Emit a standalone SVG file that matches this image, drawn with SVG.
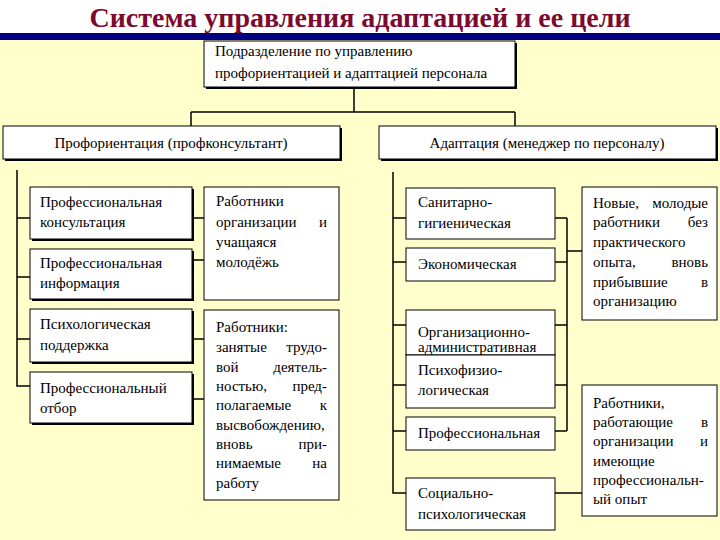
<svg xmlns="http://www.w3.org/2000/svg" width="720" height="540" viewBox="0 0 720 540">
<style>
.t{font-size:15px;fill:#000}
.e{text-anchor:end}
.box{fill:#fff;stroke:#000;stroke-width:1}
.sh{fill:#000}
.c{stroke:#000;stroke-width:1.5;fill:none}
</style>
<rect x="0" y="0" width="720" height="540" fill="#FFFFCC"/>
<rect x="0" y="0" width="720" height="33" fill="#fff"/>
<rect x="0" y="33" width="720" height="7" fill="#000080"/>
<text x="360" y="27" text-anchor="middle" font-family="Liberation Serif,'Times New Roman',serif" font-size="28" font-weight="bold" fill="#7B0A2E">Система управления адаптацией и ее цели</text>

<g id="connectors">
<path class="c" d="M354 87V112M191 112H515M191 112V126M515 112V126"/>
<path class="c" d="M17 170V386H30M17 218H30M17 277H30M17 339H30"/>
<path class="c" d="M192 218H204M192 260H204M192 339H204M192 399H204"/>
<path class="c" d="M393 172V493H406M393 218H406M393 262H406M393 325H406M393 385H406M393 431H406"/>
<path class="c" d="M555 218H567M555 262H567M555 325H567M555 385H567M555 431H567M567 218V431M567 251H582M555 493H582"/>
</g>

<g font-family="Liberation Serif,'Times New Roman',serif">
<g id="n-top">
<rect class="sh" x="206" y="43" width="311" height="46"/>
<rect class="box" x="204" y="41" width="311" height="46"/>
<text class="t" x="215" y="56">Подразделение по управлению</text>
<text class="t" x="215" y="78">профориентацией и адаптацией персонала</text>
</g>

<g id="n-prof">
<rect class="sh" x="5" y="128" width="337" height="33"/>
<rect class="box" x="3" y="126" width="337" height="33"/>
<text class="t" x="171" y="148" text-anchor="middle">Профориентация (профконсультант)</text>
</g>

<g id="n-adapt">
<rect class="sh" x="381" y="128" width="337" height="33"/>
<rect class="box" x="379" y="126" width="337" height="33"/>
<text class="t" x="547" y="148" text-anchor="middle">Адаптация (менеджер по персоналу)</text>
</g>

<g id="n-l1">
<rect class="sh" x="32" y="189" width="162" height="52"/>
<rect class="box" x="30" y="187" width="162" height="52"/>
<text class="t" x="40" y="207">Профессиональная</text>
<text class="t" x="40" y="227">консультация</text>
</g>
<g id="n-l2">
<rect class="sh" x="32" y="251" width="162" height="50"/>
<rect class="box" x="30" y="249" width="162" height="50"/>
<text class="t" x="40" y="268">Профессиональная</text>
<text class="t" x="40" y="288">информация</text>
</g>
<g id="n-l3">
<rect class="sh" x="32" y="311" width="162" height="53"/>
<rect class="box" x="30" y="309" width="162" height="53"/>
<text class="t" x="40" y="329">Психологическая</text>
<text class="t" x="40" y="350">поддержка</text>
</g>
<g id="n-l4">
<rect class="sh" x="32" y="374" width="162" height="51"/>
<rect class="box" x="30" y="372" width="162" height="51"/>
<text class="t" x="40" y="393">Профессиональный</text>
<text class="t" x="40" y="413">отбор</text>
</g>

<g id="n-m1">
<rect class="box" x="204" y="187" width="135" height="113"/>
<text class="t" x="216" y="206">Работники</text>
<text class="t" x="216" y="227">организации</text><text class="t e" x="327" y="227">и</text>
<text class="t" x="216" y="247">учащаяся</text>
<text class="t" x="216" y="267">молодёжь</text>
</g>

<g id="n-m2">
<rect class="box" x="204" y="310" width="135" height="190"/>
<text class="t" x="216" y="332">Работники:</text>
<text class="t" x="216" y="352">занятые</text><text class="t e" x="327" y="352">трудо-</text>
<text class="t" x="216" y="372">вой</text><text class="t e" x="327" y="372">деятель-</text>
<text class="t" x="216" y="391">ностью,</text><text class="t e" x="327" y="391">пред-</text>
<text class="t" x="216" y="410">полагаемые</text><text class="t e" x="327" y="410">к</text>
<text class="t" x="216" y="430">высвобождению,</text>
<text class="t" x="216" y="449">вновь</text><text class="t e" x="327" y="449">при-</text>
<text class="t" x="216" y="468">нимаемые</text><text class="t e" x="327" y="468">на</text>
<text class="t" x="216" y="488">работу</text>
</g>

<g id="n-r1">
<rect class="box" x="406" y="188" width="149" height="51"/>
<text class="t" x="418" y="207">Санитарно-</text>
<text class="t" x="418" y="228">гигиеническая</text>
</g>
<g id="n-r2">
<rect class="box" x="406" y="248" width="149" height="33"/>
<text class="t" x="418" y="269">Экономическая</text>
</g>
<g id="n-r3">
<rect class="box" x="406" y="310" width="149" height="45"/>
<text class="t" x="418" y="337">Организационно-</text>
<text class="t" x="418" y="352">административная</text>
</g>
<g id="n-r4">
<rect class="box" x="406" y="355" width="149" height="53"/>
<text class="t" x="418" y="375">Психофизио-</text>
<text class="t" x="418" y="395">логическая</text>
</g>
<g id="n-r5">
<rect class="box" x="406" y="417" width="149" height="33"/>
<text class="t" x="418" y="438">Профессиональная</text>
</g>
<g id="n-r6">
<rect class="box" x="406" y="478" width="149" height="52"/>
<text class="t" x="418" y="498">Социально-</text>
<text class="t" x="418" y="519">психологическая</text>
</g>

<g id="n-new">
<rect class="box" x="582" y="187" width="135" height="133"/>
<text class="t" x="593" y="208">Новые,</text><text class="t e" x="708" y="208">молодые</text>
<text class="t" x="593" y="227">работники</text><text class="t e" x="708" y="227">без</text>
<text class="t" x="593" y="247">практического</text>
<text class="t" x="593" y="267">опыта,</text><text class="t e" x="708" y="267">вновь</text>
<text class="t" x="593" y="287">прибывшие</text><text class="t e" x="708" y="287">в</text>
<text class="t" x="593" y="306">организацию</text>
</g>

<g id="n-exp">
<rect class="box" x="582" y="385" width="135" height="131"/>
<text class="t" x="593" y="408">Работники,</text>
<text class="t" x="593" y="427">работающие</text><text class="t e" x="708" y="427">в</text>
<text class="t" x="593" y="446">организации</text><text class="t e" x="708" y="446">и</text>
<text class="t" x="593" y="466">имеющие</text>
<text class="t" x="593" y="485">профессиональн-</text>
<text class="t" x="593" y="504">ый опыт</text>
</g>
</g>
</svg>
